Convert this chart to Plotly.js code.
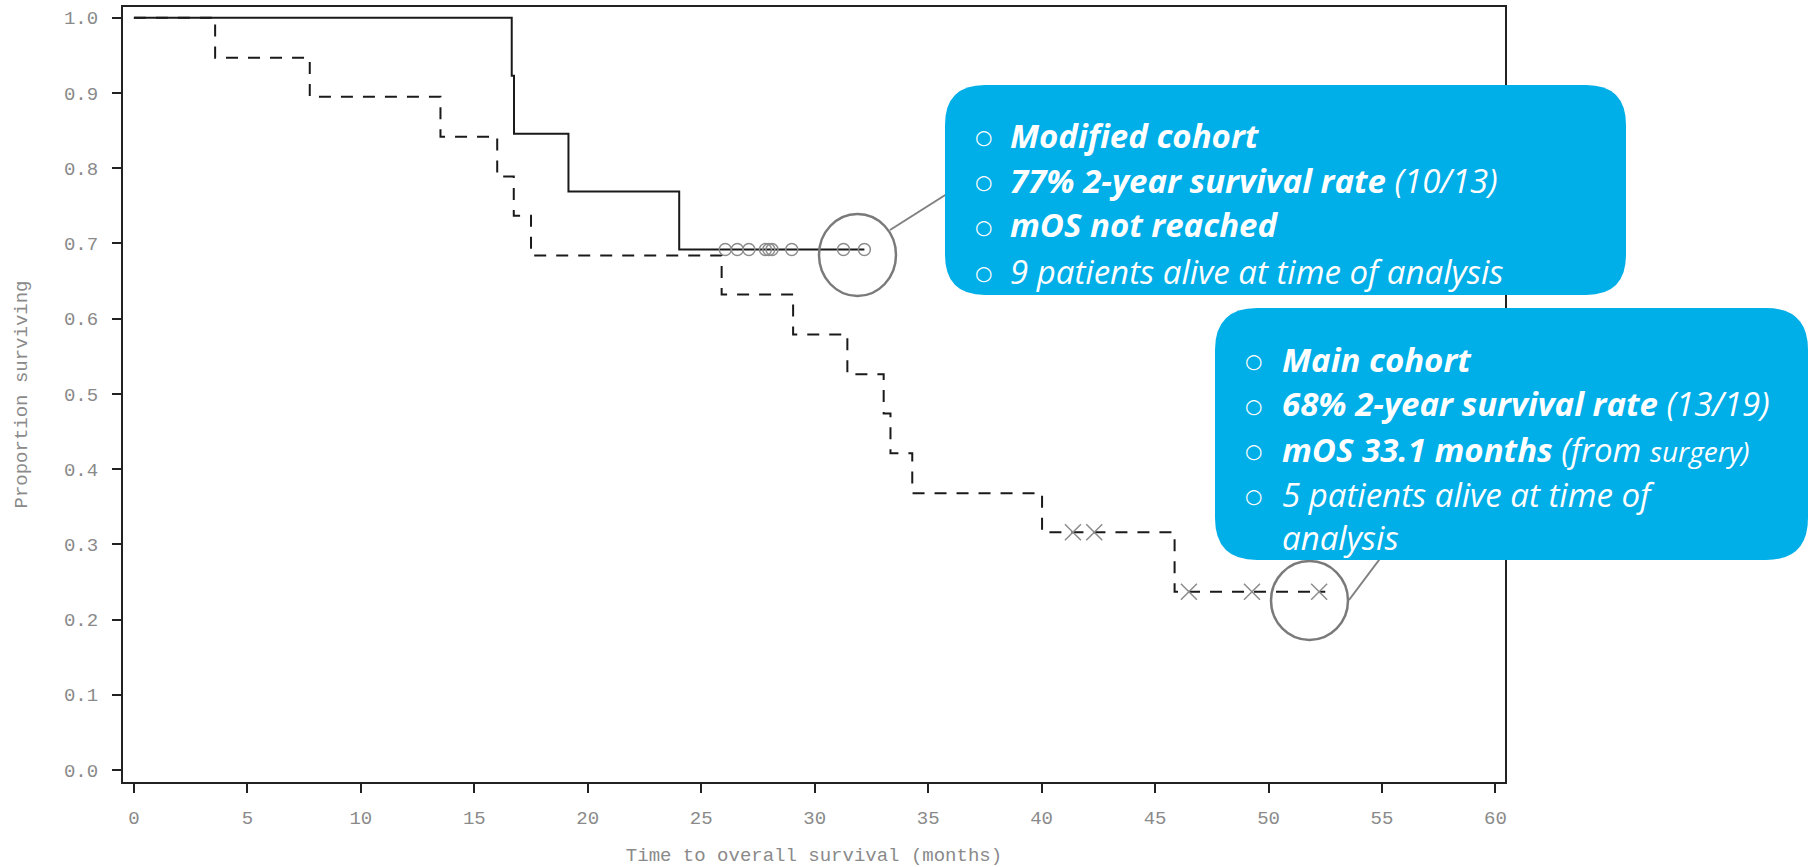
<!DOCTYPE html>
<html>
<head>
<meta charset="utf-8">
<script src="https://cdn.plot.ly/plotly-3.0.1.min.js"></script>
<style>html,body{margin:0;padding:0;background:#fff;}#chart{width:1813px;height:867px;}</style>
</head>
<body>
<div id="chart"></div>
<script>
// ---- Data ----
// Modified cohort (solid line), n = 13
const modTimes    = [0, 16.65, 16.75, 19.15, 24.03, 32.19];
const modSurv     = [1.0, 0.923, 0.846, 0.769, 0.692, 0.692];
const modCensorT  = [26.06, 26.59, 27.10, 27.83, 27.98, 28.12, 28.99, 31.27, 32.19];
const modCensorS  = [0.692, 0.692, 0.692, 0.692, 0.692, 0.692, 0.692, 0.692, 0.692];

// Main cohort (dashed line), n = 19
const mainTimes   = [0, 3.58, 7.75, 13.51, 16.01, 16.74, 17.50, 25.90, 29.05, 31.44, 33.04, 33.34, 34.30, 40.02, 45.86, 52.50];
const mainSurv    = [1.0, 0.947, 0.895, 0.842, 0.789, 0.737, 0.684, 0.632, 0.579, 0.526, 0.474, 0.421, 0.368, 0.316, 0.237, 0.237];
const mainCensorT = [41.38, 42.32, 46.49, 49.27, 52.23];
const mainCensorS = [0.316, 0.316, 0.237, 0.237, 0.237];

const xTickVals = [0, 5, 10, 15, 20, 25, 30, 35, 40, 45, 50, 55, 60];
const yTickVals = [0.0, 0.1, 0.2, 0.3, 0.4, 0.5, 0.6, 0.7, 0.8, 0.9, 1.0];
const yTickText = ['0.0', '0.1', '0.2', '0.3', '0.4', '0.5', '0.6', '0.7', '0.8', '0.9', '1.0'];

const xTitle = 'Time to overall survival (months)';
const yTitle = 'Proportion surviving';

const box1Lines = [
  '<b><i>Modified cohort</i></b>',
  '<b><i>77% 2-year survival rate</i></b><i> (10/13)</i>',
  '<b><i>mOS not reached</i></b>',
  '<i>9 patients alive at time of analysis</i>'
];
const box2Lines = [
  '<b><i>Main cohort</i></b>',
  '<b><i>68% 2-year survival rate</i></b><i> (13/19)</i>',
  '<b><i>mOS 33.1 months</i></b><i> (from <span style="font-size:28px">surgery)</span></i>',
  '<i>5 patients alive at time of</i>',
  '<i>analysis</i>'
];

// ---- Layout geometry (pixels) ----
const FW = 1813, FH = 867;
const ML = 123, MR = 308, MT = 7, MB = 85;
const PW = FW - ML - MR, PH = FH - MT - MB;
function px(x) { return (x - ML) / PW; }
function py(y) { return (FH - MB - y) / PH; }
function P(x, y) { return px(x).toFixed(5) + ',' + py(y).toFixed(5); }
function roundRect(x0, y0, x1, y1, r) {
  return 'M' + P(x0 + r, y0) + ' L' + P(x1 - r, y0) + ' Q' + P(x1, y0) + ' ' + P(x1, y0 + r) +
         ' L' + P(x1, y1 - r) + ' Q' + P(x1, y1) + ' ' + P(x1 - r, y1) +
         ' L' + P(x0 + r, y1) + ' Q' + P(x0, y1) + ' ' + P(x0, y1 - r) +
         ' L' + P(x0, y0 + r) + ' Q' + P(x0, y0) + ' ' + P(x0 + r, y0) + ' Z';
}

const BLUE = '#00AEE8';
const GREY = '#808080';

const traces = [
  {
    x: mainTimes, y: mainSurv, type: 'scatter', mode: 'lines',
    line: { shape: 'hv', color: '#1a1a1a', width: 2, dash: '12px,10px' },
    hoverinfo: 'skip', showlegend: false
  },
  {
    x: modTimes, y: modSurv, type: 'scatter', mode: 'lines',
    line: { shape: 'hv', color: '#1a1a1a', width: 2 },
    hoverinfo: 'skip', showlegend: false
  },
  {
    x: modCensorT, y: modCensorS, type: 'scatter', mode: 'markers',
    marker: { symbol: 'circle-open', size: 12, color: '#8c8c8c', line: { width: 1.5, color: '#8c8c8c' } },
    hoverinfo: 'skip', showlegend: false
  },
  {
    x: mainCensorT, y: mainCensorS, type: 'scatter', mode: 'markers',
    marker: { symbol: 'x-thin-open', size: 16, color: '#8c8c8c', line: { width: 1.5, color: '#8c8c8c' } },
    hoverinfo: 'skip', showlegend: false
  }
];

const shapes = [
  // connector lines (under the boxes)
  { type: 'line', xref: 'paper', yref: 'paper', x0: px(890), y0: py(230), x1: px(950), y1: py(192),
    line: { color: GREY, width: 2 }, layer: 'above' },
  { type: 'line', xref: 'paper', yref: 'paper', x0: px(1349), y0: py(600), x1: px(1394), y1: py(540),
    line: { color: GREY, width: 2 }, layer: 'above' },
  // highlight ellipses
  { type: 'circle', xref: 'paper', yref: 'paper', x0: px(819), y0: py(214), x1: px(896), y1: py(296),
    line: { color: '#7a7a7a', width: 2.5 }, layer: 'above' },
  { type: 'circle', xref: 'paper', yref: 'paper', x0: px(1271), y0: py(561), x1: px(1348), y1: py(640),
    line: { color: '#7a7a7a', width: 2.5 }, layer: 'above' },
  // callout boxes
  { type: 'path', xref: 'paper', yref: 'paper', path: roundRect(945, 85, 1626, 295, 40),
    fillcolor: BLUE, line: { width: 0 }, layer: 'above' },
  { type: 'path', xref: 'paper', yref: 'paper', path: roundRect(1215, 308, 1808, 560, 42),
    fillcolor: BLUE, line: { width: 0 }, layer: 'above' }
];

const annotations = [];
const txtFont = { family: 'Open Sans, Lato, sans-serif', size: 33, color: '#ffffff' };
const bulletFont = { family: 'DejaVu Sans, sans-serif', size: 20, color: '#ffffff' };
const box1Y = [135, 180, 225, 271];
const box2Y = [359, 404, 449, 494, 537];
box1Lines.forEach(function (t, i) {
  annotations.push({ xref: 'paper', yref: 'paper', x: px(1008), y: py(box1Y[i]), xanchor: 'left', yanchor: 'middle',
    text: t, showarrow: false, font: txtFont });
  annotations.push({ xref: 'paper', yref: 'paper', x: px(983), y: py(box1Y[i] + 2), xanchor: 'center', yanchor: 'middle',
    text: '○', showarrow: false, font: bulletFont });
});
box2Lines.forEach(function (t, i) {
  annotations.push({ xref: 'paper', yref: 'paper', x: px(1280), y: py(box2Y[i]), xanchor: 'left', yanchor: 'middle',
    text: t, showarrow: false, font: txtFont });
  if (i < 4) {
    annotations.push({ xref: 'paper', yref: 'paper', x: px(1253), y: py(box2Y[i] + 2), xanchor: 'center', yanchor: 'middle',
      text: '○', showarrow: false, font: bulletFont });
  }
});

const monoTick = { family: 'Liberation Mono, Courier New, monospace', size: 19, color: '#8a8a8a' };
const monoTitle = { family: 'Liberation Mono, Courier New, monospace', size: 19, color: '#8a8a8a' };

const layout = {
  width: FW, height: FH,
  margin: { l: ML, r: MR, t: MT, b: MB, pad: 0 },
  paper_bgcolor: '#ffffff', plot_bgcolor: '#ffffff',
  showlegend: false,
  xaxis: {
    range: [-0.48, 60.42], tickvals: xTickVals, ticktext: xTickVals.map(String),
    showgrid: false, zeroline: false,
    showline: true, mirror: true, linecolor: '#222222', linewidth: 2,
    ticks: 'outside', ticklen: 9, tickwidth: 2, tickcolor: '#222222',
    tickfont: monoTick, ticklabelstandoff: 8,
    title: { text: xTitle, font: monoTitle, standoff: 23 },
    automargin: false, fixedrange: true
  },
  yaxis: {
    range: [-0.016, 1.0144], tickvals: yTickVals, ticktext: yTickText,
    showgrid: false, zeroline: false,
    showline: true, mirror: true, linecolor: '#222222', linewidth: 2,
    ticks: 'outside', ticklen: 9, tickwidth: 2, tickcolor: '#222222',
    tickfont: monoTick, ticklabelstandoff: 10,
    title: { text: yTitle, font: monoTitle, standoff: 31 },
    automargin: false, fixedrange: true
  },
  shapes: shapes,
  annotations: annotations
};

Plotly.newPlot('chart', traces, layout, { displayModeBar: false, staticPlot: true });
</script>
</body>
</html>
